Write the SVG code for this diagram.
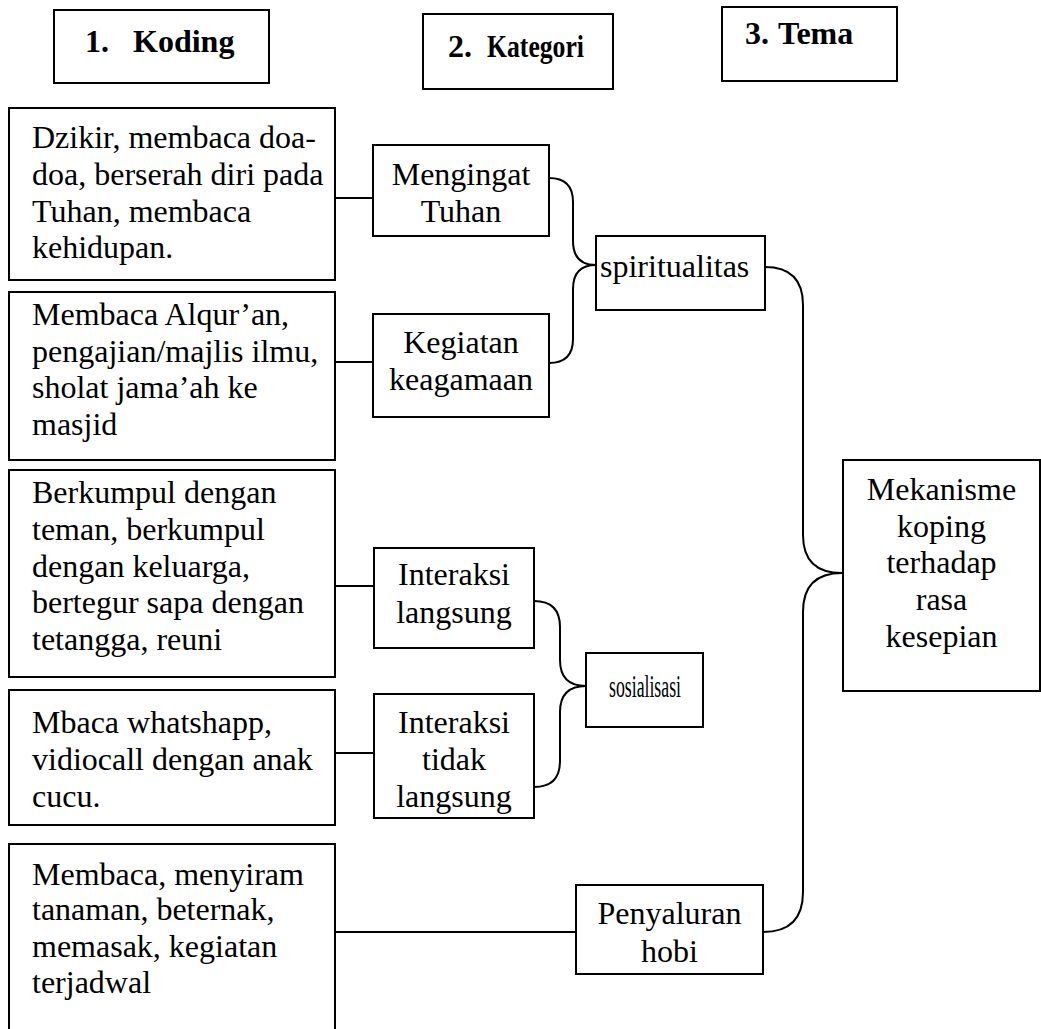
<svg xmlns="http://www.w3.org/2000/svg" width="1041" height="1029" viewBox="0 0 1041 1029">
  <style>
    .box { fill: #fff; stroke: #000; stroke-width: 2; }
    .link { fill: none; stroke: #000; stroke-width: 2; }
    text { font-family: "Liberation Serif", "Times New Roman", serif; font-size: 32px; fill: #000; }
    .head { font-weight: bold; }
    .mid { text-anchor: middle; }
  </style>
  <rect width="1041" height="1029" fill="#fff"/>

  <!-- column headers -->
  <g id="header-koding">
    <rect class="box" x="54" y="10" width="215" height="73"/>
    <text class="head" x="85" y="52">1.</text>
    <text class="head" x="133" y="52">Koding</text>
  </g>
  <g id="header-kategori">
    <rect class="box" x="423" y="14" width="190" height="75"/>
    <text class="head" x="448" y="57" font-size="38" textLength="24" lengthAdjust="spacingAndGlyphs">2.</text>
    <text class="head" x="487" y="57" font-size="38" textLength="97" lengthAdjust="spacingAndGlyphs">Kategori</text>
  </g>
  <g id="header-tema">
    <rect class="box" x="722" y="7" width="175" height="74"/>
    <text class="head" x="745" y="44" font-size="29">3.</text>
    <text class="head" x="778" y="44" font-size="29">Tema</text>
  </g>

  <!-- connectors -->
  <g id="connectors">
    <line class="link" x1="335" y1="198" x2="373" y2="198"/>
    <line class="link" x1="335" y1="362" x2="373" y2="362"/>
    <line class="link" x1="335" y1="586" x2="374" y2="586"/>
    <line class="link" x1="335" y1="753" x2="374" y2="753"/>
    <line class="link" x1="335" y1="932" x2="576" y2="932"/>
    <path class="link" d="M549,178 Q573,178 573,202 L573,241 Q573,265 596,265"/>
    <path class="link" d="M596,265 Q573,265 573,289 L573,339 Q573,363 549,363"/>
    <path class="link" d="M534,601 Q560,601 560,627 L560,660 Q560,686 586,686"/>
    <path class="link" d="M586,686 Q560,686 560,712 L560,761 Q560,787 534,787"/>
    <path class="link" d="M765,267 Q803,267 803,305 L803,535 Q803,573 842,573"/>
    <path class="link" d="M842,573 Q803,573 803,612 L803,892 Q803,932 763,932"/>
  </g>

  <!-- codes -->
  <g id="kode-dzikir">
    <rect class="box" x="9" y="108" width="326" height="172"/>
    <text x="32" y="148">Dzikir, membaca doa-</text>
    <text x="32" y="185">doa, berserah diri pada</text>
    <text x="32" y="222">Tuhan, membaca</text>
    <text x="32" y="258">kehidupan.</text>
  </g>
  <g id="kode-alquran">
    <rect class="box" x="9" y="292" width="326" height="168"/>
    <text x="32" y="325">Membaca Alqur’an,</text>
    <text x="32" y="362">pengajian/majlis ilmu,</text>
    <text x="32" y="398">sholat jama’ah ke</text>
    <text x="32" y="435">masjid</text>
  </g>
  <g id="kode-berkumpul">
    <rect class="box" x="9" y="470" width="326" height="207"/>
    <text x="32" y="503">Berkumpul dengan</text>
    <text x="32" y="540">teman, berkumpul</text>
    <text x="32" y="577">dengan keluarga,</text>
    <text x="32" y="613">bertegur sapa dengan</text>
    <text x="32" y="650">tetangga, reuni</text>
  </g>
  <g id="kode-whatsapp">
    <rect class="box" x="9" y="690" width="326" height="135"/>
    <text x="32" y="733">Mbaca whatshapp,</text>
    <text x="32" y="770">vidiocall dengan anak</text>
    <text x="32" y="807">cucu.</text>
  </g>
  <g id="kode-hobi">
    <path class="link" d="M9,1035 L9,844 L335,844 L335,1035"/>
    <text x="32" y="885">Membaca, menyiram</text>
    <text x="32" y="920">tanaman, beternak,</text>
    <text x="32" y="957">memasak, kegiatan</text>
    <text x="32" y="993">terjadwal</text>
  </g>

  <!-- categories -->
  <g id="kat-mengingat">
    <rect class="box" x="373" y="145" width="176" height="91"/>
    <text class="mid" x="461" y="185">Mengingat</text>
    <text class="mid" x="461" y="222">Tuhan</text>
  </g>
  <g id="kat-keagamaan">
    <rect class="box" x="373" y="314" width="176" height="103"/>
    <text class="mid" x="461" y="353">Kegiatan</text>
    <text class="mid" x="461" y="390">keagamaan</text>
  </g>
  <g id="kat-langsung">
    <rect class="box" x="374" y="548" width="160" height="100"/>
    <text class="mid" x="454" y="585">Interaksi</text>
    <text class="mid" x="454" y="623">langsung</text>
  </g>
  <g id="kat-tidak-langsung">
    <rect class="box" x="374" y="694" width="160" height="124"/>
    <text class="mid" x="454" y="733">Interaksi</text>
    <text class="mid" x="454" y="770">tidak</text>
    <text class="mid" x="454" y="807">langsung</text>
  </g>
  <g id="kat-hobi">
    <rect class="box" x="576" y="885" width="187" height="89"/>
    <text class="mid" x="669.5" y="924">Penyaluran</text>
    <text class="mid" x="669.5" y="962">hobi</text>
  </g>

  <!-- sub-themes -->
  <g id="spiritualitas">
    <rect class="box" x="596" y="236" width="169" height="74"/>
    <text x="600" y="277">spiritualitas</text>
  </g>
  <g id="sosialisasi">
    <rect class="box" x="586" y="653" width="117" height="74"/>
    <text x="609" y="697" textLength="72" lengthAdjust="spacingAndGlyphs">sosialisasi</text>
  </g>

  <!-- theme -->
  <g id="tema-koping">
    <rect class="box" x="843" y="460" width="197" height="231"/>
    <text class="mid" x="941.5" y="500">Mekanisme</text>
    <text class="mid" x="941.5" y="537">koping</text>
    <text class="mid" x="941.5" y="573">terhadap</text>
    <text class="mid" x="941.5" y="610">rasa</text>
    <text class="mid" x="941.5" y="647">kesepian</text>
  </g>
</svg>
